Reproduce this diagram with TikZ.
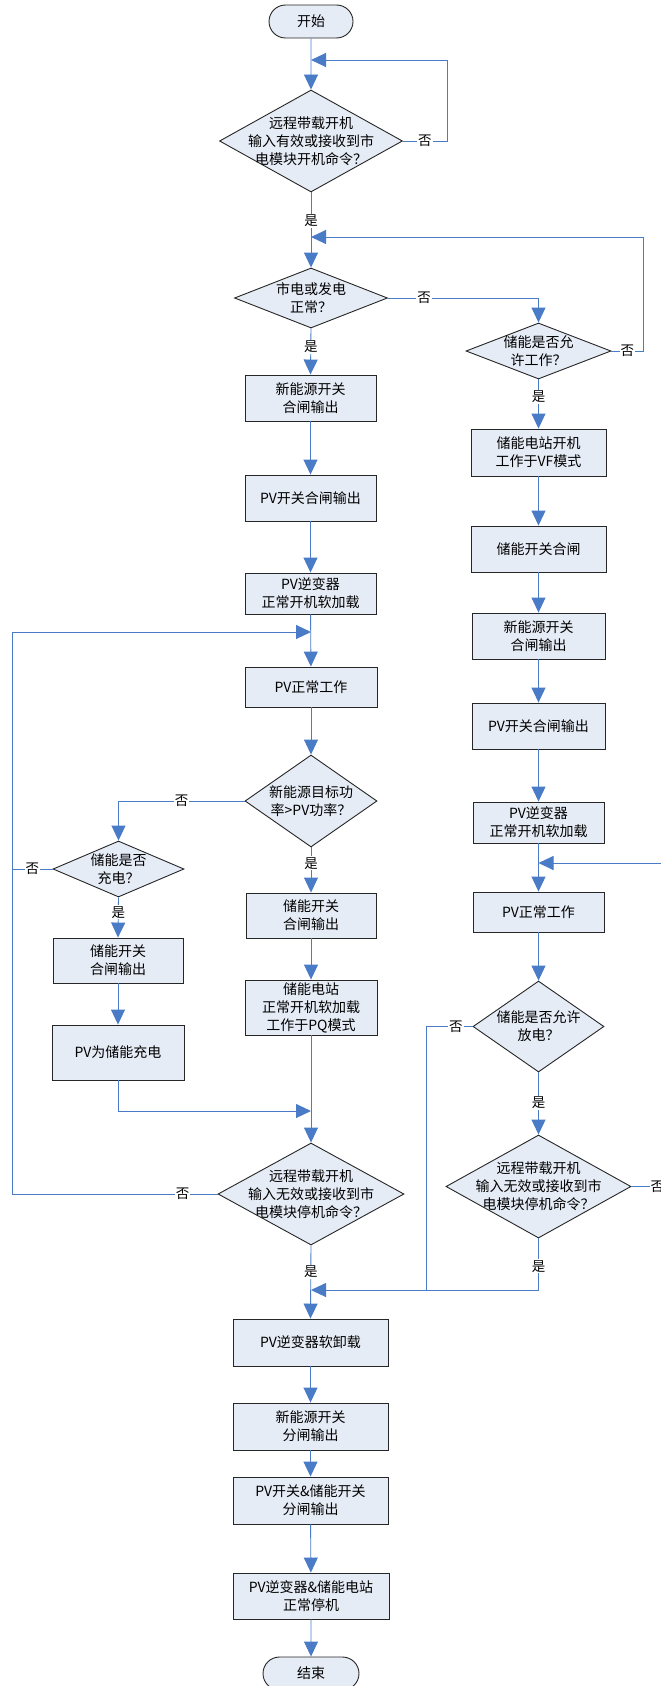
\documentclass[tikz,border=0pt]{standalone}
\usepackage{fontspec}
\setmainfont{Noto Sans CJK SC}
\usepackage{xcolor}
\usepackage{tikz}
\usetikzlibrary{arrows.meta}
\usetikzlibrary{shapes.geometric, shapes.misc, positioning}
\definecolor{boxFill}{HTML}{E6ECF6}
\definecolor{lineBlue}{HTML}{4A7BC6}
\newcommand{\flowfont}{\fontsize{14}{18}\selectfont}
\newcommand{\markfont}{\fontsize{13.5}{16}\selectfont}
\tikzset{flow-box/.style={draw=black!85, fill=boxFill, line width=0.9pt, inner sep=0pt, align=center, font=\flowfont, minimum width=131pt, minimum height=46pt}}
\tikzset{flow-end/.style={rounded rectangle, draw=black!85, fill=boxFill, line width=0.9pt, inner sep=0pt, font=\flowfont, minimum width=84pt, minimum height=33pt}}
\tikzset{flow-decide/.style={diamond, draw=black!85, fill=boxFill, line width=0.9pt, inner sep=0pt}}
\tikzset{flow-text/.style={align=center, font=\flowfont, inner sep=0pt}}
\tikzset{flow-line/.style={draw=lineBlue, line width=0.9pt}}
\tikzset{yes-no/.style={fill=white, inner sep=1pt, font=\markfont}}
\tikzset{>={Triangle[length=15pt, width=14pt]}}

\begin{document}
\begin{tikzpicture}[x=1pt, y=-1pt]
            \clip (0,0) rectangle (661,1686);

            % main column
            \node [flow-end] (start) at (311, 21.5) {开始};
            \node [flow-decide, minimum width=183pt, minimum height=102pt] (on-cmd) at (311, 141) {};
            \node [flow-text] (on-cmd-text) at (on-cmd) {远程带载开机\\输入有效或接收到市\\电模块开机命令？};
            \node [flow-decide, minimum width=153pt, minimum height=60pt] (grid-ok) at (311, 298) {};
            \node [flow-text] (grid-ok-text) at (grid-ok) {市电或发电\\正常？};
            \node [flow-box] (new-sw-on) at (310.5, 398) {新能源开关\\合闸输出};
            \node [flow-box] (pv-sw-on) at (310.5, 498) {PV开关合闸输出};
            \node [flow-box, minimum height=41pt] (pv-inv-on) at (310.5, 593.5) {PV逆变器\\正常开机软加载};
            \node [flow-box, minimum width=132pt, minimum height=40pt] (pv-run) at (311, 687) {PV正常工作};
            \node [flow-decide, minimum width=132pt, minimum height=92pt] (target) at (311, 801) {};
            \node [flow-text] (target-text) at (target) {新能源目标功\\率>PV功率？};
            \node [flow-box, minimum width=130pt, minimum height=45pt] (bat-sw-on) at (311, 915.5) {储能开关\\合闸输出};
            \node [flow-box, minimum width=132pt, minimum height=55pt] (bat-pq) at (311, 1007.5) {储能电站\\正常开机软加载\\工作于PQ模式};
            \node [flow-decide, minimum width=186pt, minimum height=102pt] (off-cmd) at (311, 1194) {};
            \node [flow-text] (off-cmd-text) at (off-cmd) {远程带载开机\\输入无效或接收到市\\电模块停机命令？};
            \node [flow-box, minimum width=155pt, minimum height=47pt] (pv-inv-off) at (310.5, 1342.5) {PV逆变器软卸载};
            \node [flow-box, minimum width=155pt, minimum height=47pt] (new-sw-off) at (310.5, 1426.5) {新能源开关\\分闸输出};
            \node [flow-box, minimum width=155pt, minimum height=47pt] (all-sw-off) at (310.5, 1500.5) {PV开关\&储能开关\\分闸输出};
            \node [flow-box, minimum width=156pt, minimum height=46pt] (all-stop) at (311, 1596) {PV逆变器\&储能电站\\正常停机};
            \node [flow-end, minimum width=96pt] (end) at (311, 1673.5) {结束};

            % charging branch
            \node [flow-decide, minimum width=131pt, minimum height=56pt] (charge) at (118.5, 869) {};
            \node [flow-text] (charge-text) at (charge) {储能是否\\充电？};
            \node [flow-box, minimum width=130pt, minimum height=45pt] (bat-sw-chg) at (118, 960.5) {储能开关\\合闸输出};
            \node [flow-box, minimum width=132pt, minimum height=55pt] (pv-chg) at (118, 1052.5) {PV为储能充电};

            % island branch
            \node [flow-decide, minimum width=145pt, minimum height=56pt] (bat-ok) at (538.5, 351) {};
            \node [flow-text] (bat-ok-text) at (bat-ok) {储能是否允\\许工作？};
            \node [flow-box, minimum width=135pt, minimum height=47pt] (bat-vf) at (538.5, 452.5) {储能电站开机\\工作于VF模式};
            \node [flow-box, minimum width=135pt] (bat-sw-close) at (538.5, 549) {储能开关合闸};
            \node [flow-box, minimum width=133pt] (new-sw-on-r) at (538.5, 636) {新能源开关\\合闸输出};
            \node [flow-box, minimum width=133pt] (pv-sw-on-r) at (538.5, 726) {PV开关合闸输出};
            \node [flow-box, minimum height=41pt] (pv-inv-on-r) at (538.5, 822.5) {PV逆变器\\正常开机软加载};
            \node [flow-box, minimum height=40pt] (pv-run-r) at (538.5, 912) {PV正常工作};
            \node [flow-decide, minimum width=131pt, minimum height=91pt] (discharge) at (538.5, 1026.5) {};
            \node [flow-text] (discharge-text) at (discharge) {储能是否允许\\放电？};
            \node [flow-decide, minimum width=185pt, minimum height=103pt] (off-cmd-r) at (538.5, 1186.5) {};
            \node [flow-text] (off-cmd-r-text) at (off-cmd-r) {远程带载开机\\输入无效或接收到市\\电模块停机命令？};

            \coordinate (loop-top) at (311, 60);
            \coordinate (loop-grid) at (311, 237);
            \coordinate (loop-run) at (311, 632);
            \coordinate (join-chg) at (311, 1111);
            \coordinate (join-off) at (311, 1290);
            \coordinate (loop-run-r) at (538.5, 863);
            \coordinate (rail-left) at (12, 632);
            \coordinate (rail-mid) at (426, 1290);

            % connectors, main column
            \draw [flow-line, ->] (start) -- (on-cmd);
            \draw [flow-line, ->] (on-cmd.east) -- node[yes-no] {否} ++(44,0) |- (loop-top);
            \draw [flow-line, ->] (on-cmd.south) -- node[yes-no, pos=0.38] {是} (grid-ok.north);
            \draw [flow-line, ->] (grid-ok.east) -| node[yes-no, pos=0.12] {否} (bat-ok.north);
            \draw [flow-line, ->] (grid-ok.south) -- node[yes-no, pos=0.4] {是} (new-sw-on.north);
            \draw [flow-line, ->] (new-sw-on) -- (pv-sw-on);
            \draw [flow-line, ->] (pv-sw-on) -- (pv-inv-on);
            \draw [flow-line, ->] (pv-inv-on) -- (pv-run);
            \draw [flow-line, ->] (pv-run) -- (target);
            \draw [flow-line, ->] (target.west) -| node[yes-no, pos=0.25] {否} (charge.north);
            \draw [flow-line, ->] (target.south) -- node[yes-no, pos=0.35] {是} (bat-sw-on.north);
            \draw [flow-line, ->] (bat-sw-on) -- (bat-pq);
            \draw [flow-line, ->] (bat-pq) -- (off-cmd);
            \draw [flow-line, ->] (off-cmd.west) -- node[yes-no, pos=0.17] {否} (rail-left |- off-cmd.west) |- (loop-run);
            \draw [flow-line, ->] (off-cmd.south) -- node[yes-no, pos=0.36] {是} (pv-inv-off.north);
            \draw [flow-line, ->] (pv-inv-off) -- (new-sw-off);
            \draw [flow-line, ->] (new-sw-off) -- (all-sw-off);
            \draw [flow-line, ->] (all-sw-off) -- (all-stop);
            \draw [flow-line, ->] (all-stop) -- (end);

            % connectors, charging branch
            \draw [flow-line] (charge.west) -- node[yes-no] {否} (rail-left |- charge.west);
            \draw [flow-line, ->] (charge.south) -- node[yes-no, pos=0.37] {是} (bat-sw-chg.north);
            \draw [flow-line, ->] (bat-sw-chg) -- (pv-chg);
            \draw [flow-line, ->] (pv-chg.south) |- (join-chg);

            % connectors, island branch
            \draw [flow-line, ->] (bat-ok.east) -- node[yes-no] {否} ++(32,0) |- (loop-grid);
            \draw [flow-line, ->] (bat-ok.south) -- node[yes-no, pos=0.36] {是} (bat-vf.north);
            \draw [flow-line, ->] (bat-vf) -- (bat-sw-close);
            \draw [flow-line, ->] (bat-sw-close) -- (new-sw-on-r);
            \draw [flow-line, ->] (new-sw-on-r) -- (pv-sw-on-r);
            \draw [flow-line, ->] (pv-sw-on-r) -- (pv-inv-on-r);
            \draw [flow-line, ->] (pv-inv-on-r) -- (pv-run-r);
            \draw [flow-line, ->] (pv-run-r) -- (discharge);
            \draw [flow-line] (discharge.west) -- node[yes-no, pos=0.36] {否} (rail-mid |- discharge.west) -- (rail-mid);
            \draw [flow-line, ->] (discharge.south) -- node[yes-no, pos=0.49] {是} (off-cmd-r.north);
            \draw [flow-line, ->] (off-cmd-r.south) |- node[yes-no, pos=0.27] {是} (join-off);
            \draw [flow-line, ->] (off-cmd-r.east) -- node[yes-no] {否} ++(52,0) |- (loop-run-r);
\end{tikzpicture}
\end{document}
